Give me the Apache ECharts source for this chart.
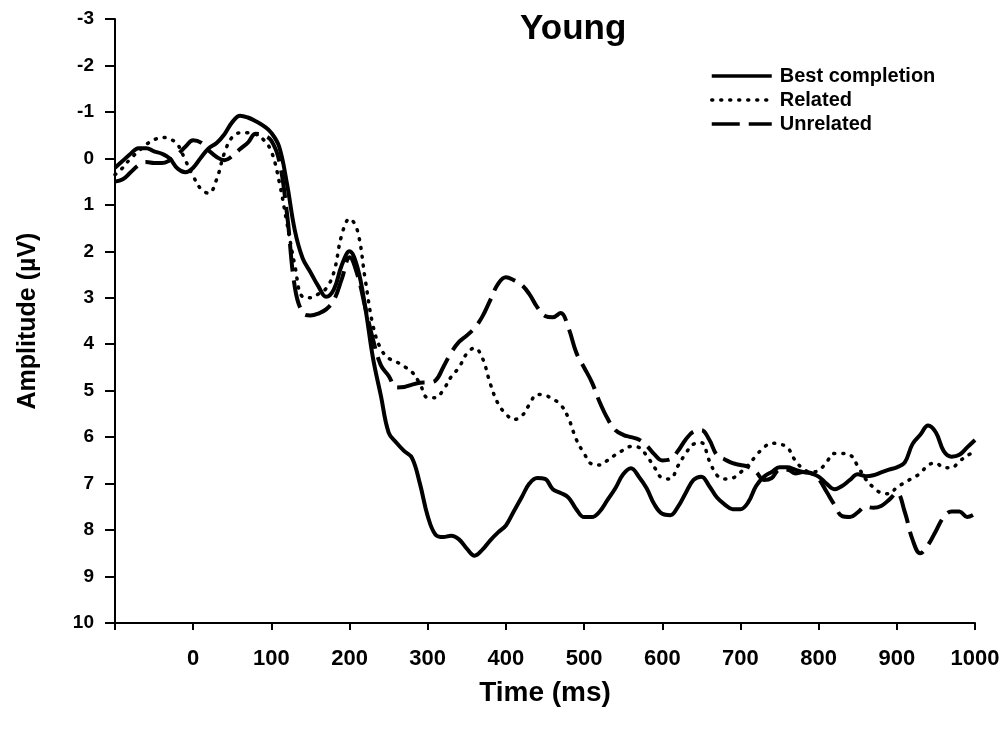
<!DOCTYPE html>
<html>
<head>
<meta charset="utf-8">
<script src="https://cdn.jsdelivr.net/npm/echarts@6/dist/echarts.min.js"></script>
<style>
html,body{margin:0;padding:0;background:#fff;}
#chart{width:1007px;height:736px;}
</style>
</head>
<body>
<div id="chart"></div>
<script>
const times = [];
for (let t = -100; t <= 1000; t += 10) times.push(t);

const bestCompletion = [
 0.2, 0.05, -0.1, -0.22, -0.22, -0.15, -0.1, 0.0, 0.22, 0.3,
 0.2, -0.02, -0.22, -0.33, -0.52, -0.78, -0.92, -0.88, -0.8, -0.7,
 -0.55, -0.25, 0.55, 1.55, 2.15, 2.45, 2.75, 2.98, 2.82, 2.3,
 2.0, 2.34, 3.2, 4.3, 5.1, 5.9, 6.12, 6.3, 6.45, 7.0,
 7.7, 8.1, 8.15, 8.12, 8.2, 8.4, 8.55, 8.42, 8.22, 8.05,
 7.9, 7.6, 7.3, 7.0, 6.88, 6.9, 7.12, 7.2, 7.3, 7.55,
 7.72, 7.72, 7.6, 7.35, 7.1, 6.8, 6.67, 6.85, 7.1, 7.45,
 7.65, 7.68, 7.5, 7.2, 6.92, 6.85, 7.05, 7.3, 7.45, 7.55,
 7.55, 7.4, 7.05, 6.85, 6.75, 6.65, 6.65, 6.7, 6.75, 6.78,
 6.85, 7.0, 7.12, 7.05, 6.92, 6.8, 6.84, 6.82, 6.76, 6.7,
 6.65, 6.55, 6.15, 5.95, 5.75, 5.9, 6.3, 6.42, 6.38, 6.22,
 6.06
];

const related = [
 0.35, 0.2, 0.0, -0.15, -0.3, -0.4, -0.45, -0.42, -0.3, 0.04,
 0.38, 0.66, 0.75, 0.45, -0.12, -0.46, -0.55, -0.55, -0.52, -0.4,
 -0.15, 0.5, 1.4, 2.3, 2.98, 3.0, 2.92, 2.8, 2.45, 1.65,
 1.3, 1.55, 2.6, 3.6, 4.1, 4.3, 4.38, 4.48, 4.6, 4.85,
 5.15, 5.15, 4.98, 4.7, 4.5, 4.2, 4.08, 4.3, 4.85, 5.28,
 5.5, 5.62, 5.55, 5.3, 5.08, 5.1, 5.18, 5.3, 5.59, 6.05,
 6.35, 6.58, 6.6, 6.5, 6.38, 6.28, 6.2, 6.22, 6.4, 6.65,
 6.88, 6.9, 6.62, 6.35, 6.15, 6.12, 6.5, 6.82, 6.9, 6.88,
 6.76, 6.6, 6.4, 6.22, 6.13, 6.15, 6.22, 6.5, 6.68, 6.75,
 6.72, 6.54, 6.35, 6.35, 6.38, 6.62, 6.9, 7.08, 7.2, 7.22,
 7.08, 6.98, 6.88, 6.78, 6.6, 6.56, 6.66, 6.66, 6.52, 6.4,
 6.3
];

const unrelated = [
 0.5, 0.45, 0.3, 0.15, 0.08, 0.1, 0.1, 0.04, -0.08, -0.25,
 -0.39, -0.34, -0.17, -0.03, 0.04, -0.05, -0.2, -0.34, -0.53, -0.5,
 -0.38, 0.05, 1.19, 2.77, 3.32, 3.38, 3.34, 3.25, 3.05, 2.6,
 2.13, 2.5, 3.2, 3.9, 4.45, 4.68, 4.93, 4.92, 4.87, 4.83,
 4.82, 4.78, 4.49, 4.18, 3.95, 3.81, 3.65, 3.4, 3.05, 2.7,
 2.56, 2.62, 2.72, 2.92, 3.2, 3.39, 3.42, 3.33, 3.65, 4.18,
 4.5, 4.82, 5.25, 5.6, 5.85, 5.95, 6.0, 6.05, 6.18, 6.37,
 6.5, 6.48, 6.3, 6.05, 5.88, 5.85, 6.05, 6.39, 6.48, 6.56,
 6.6, 6.64, 6.75, 6.92, 6.88, 6.7, 6.7, 6.78, 6.75, 6.77,
 6.9, 7.17, 7.45, 7.7, 7.72, 7.62, 7.5, 7.52, 7.48, 7.35,
 7.2, 7.6, 8.2, 8.5, 8.32, 8.02, 7.72, 7.6, 7.6, 7.72,
 7.65
];

const seriesNames = ['Best completion', 'Related', 'Unrelated'];
const xTicks = {min: -100, max: 1000, step: 100};
const yTicks = {min: -3, max: 10, step: 1};

const pair = arr => times.map((t, i) => [t, arr[i]]);
const font = '"Liberation Sans", Arial, sans-serif';

const chart = echarts.init(document.getElementById('chart'));
chart.setOption({
  animation: false,
  backgroundColor: '#fff',
  color: ['#000', '#000', '#000'],
  title: {
    text: 'Young', left: 515, top: 7,
    textStyle: {fontFamily: font, fontSize: 35, fontWeight: 'bold', color: '#000'}
  },
  legend: {
    orient: 'vertical', left: 705, top: 61,
    itemWidth: 60, itemHeight: 14, itemGap: 4,
    itemStyle: {opacity: 0},
    lineStyle: {width: 3.5},
    textStyle: {fontFamily: font, fontSize: 20, lineHeight: 20, fontWeight: 'bold', color: '#000',
      padding: [0, 0, 0, 3]},
    data: seriesNames
  },
  grid: {left: 115, right: 32, top: 19, bottom: 113, containLabel: false},
  xAxis: {
    type: 'value', min: xTicks.min, max: xTicks.max, interval: xTicks.step,
    name: 'Time (ms)', nameLocation: 'middle', nameGap: 56,
    nameTextStyle: {fontFamily: font, fontSize: 28, fontWeight: 'bold', color: '#000'},
    axisLine: {onZero: false, lineStyle: {color: '#000', width: 2}},
    axisTick: {show: true, length: 7, lineStyle: {color: '#000', width: 2}},
    axisLabel: {fontFamily: font, fontSize: 22, fontWeight: 'bold', color: '#000', margin: 25,
      formatter: v => v === xTicks.min ? '' : String(v)},
    splitLine: {show: false}
  },
  yAxis: {
    type: 'value', inverse: true, min: yTicks.min, max: yTicks.max, interval: yTicks.step,
    name: 'Amplitude (\u00b5V)', nameLocation: 'middle', nameGap: 74, nameRotate: 90,
    nameTextStyle: {fontFamily: font, fontSize: 25, fontWeight: 'bold', color: '#000'},
    axisLine: {onZero: false, lineStyle: {color: '#000', width: 2}},
    axisTick: {show: true, length: 10, lineStyle: {color: '#000', width: 2}},
    axisLabel: {fontFamily: font, fontSize: 19, fontWeight: 'bold', color: '#000', margin: 21},
    splitLine: {show: false}
  },
  series: [
    {
      name: seriesNames[0], type: 'line', data: pair(bestCompletion), smooth: 0.4,
      symbol: 'none', itemStyle: {color: '#000'}, lineStyle: {color: '#000', width: 4}
    },
    {
      name: seriesNames[1], type: 'line', data: pair(related), smooth: 0.4,
      symbol: 'none', itemStyle: {color: '#000'},
      lineStyle: {color: '#000', width: 3.5, type: [1, 8], cap: 'round'}
    },
    {
      name: seriesNames[2], type: 'line', data: pair(unrelated), smooth: 0.4,
      symbol: 'none', itemStyle: {color: '#000'},
      lineStyle: {color: '#000', width: 4, type: [28, 9]}
    }
  ]
});
</script>
</body>
</html>
